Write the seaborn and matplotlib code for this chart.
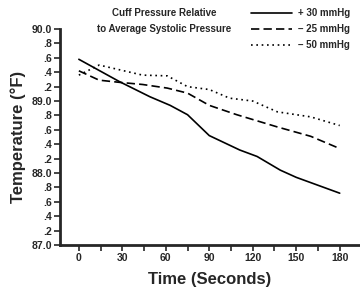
import numpy as np
import pandas as pd
import seaborn as sns
import matplotlib
matplotlib.use("Agg")
import matplotlib.pyplot as plt
from matplotlib.lines import Line2D

sns.set_style("ticks")
plt.rcParams['font.family'] = ['Liberation Sans Narrow', 'Liberation Sans', 'DejaVu Sans']

# Data
t_plus30 = [0, 28, 49, 63, 75, 90, 111, 123, 139, 150, 180]
T_plus30 = [89.58, 89.27, 89.06, 88.94, 88.81, 88.52, 88.32, 88.23, 88.04, 87.94, 87.72]
t_minus25 = [0, 14, 28, 44, 61, 75, 90, 109, 137, 160, 180]
T_minus25 = [89.42, 89.29, 89.26, 89.23, 89.18, 89.11, 88.94, 88.81, 88.64, 88.51, 88.34]
t_minus50 = [0, 14, 44, 61, 75, 90, 104, 120, 137, 160, 180]
T_minus50 = [89.36, 89.50, 89.36, 89.35, 89.20, 89.16, 89.04, 89.00, 88.85, 88.78, 88.66]
labels = ["+ 30 mmHg", "\u2013 25 mmHg", "\u2013 50 mmHg"]

df = pd.concat([
    pd.DataFrame({"t": t_plus30, "T": T_plus30, "cuff": labels[0]}),
    pd.DataFrame({"t": t_minus25, "T": T_minus25, "cuff": labels[1]}),
    pd.DataFrame({"t": t_minus50, "T": T_minus50, "cuff": labels[2]}),
])

fig = plt.figure(figsize=(3.6, 2.93), dpi=100)
ax = fig.add_axes([0.1667, 0.1638, 0.8333, 0.737])

dashes = {labels[0]: "", labels[1]: (5, 2.5), labels[2]: (1, 2.2)}
sns.lineplot(data=df, x="t", y="T", style="cuff", dashes=dashes,
             color="black", linewidth=1.2, ax=ax, legend=False, sort=False)

ax.set_xlim(-13, 194)
ax.set_ylim(87, 90)
ax.set_xticks(np.arange(0, 181, 30))
ax.set_xticks(np.arange(15, 181, 30), minor=True)
ax.set_yticks(np.arange(87, 90.01, 0.2))
ylabels = []
for v in np.arange(87, 90.01, 0.2):
    if abs(v - round(v)) < 1e-6:
        ylabels.append("%.1f" % v)
    else:
        ylabels.append(("%.1f" % v)[2:])
ax.set_yticklabels(ylabels)
ax.tick_params(axis="both", which="both", direction="out", width=1.2, length=4,
               labelsize=7.5, pad=2)
for lab in ax.get_xticklabels() + ax.get_yticklabels():
    lab.set_fontweight("bold")
for s in ["top", "right"]:
    ax.spines[s].set_visible(False)
for s in ["left", "bottom"]:
    ax.spines[s].set_linewidth(2)

ax.set_xlabel("Time (Seconds)", fontsize=12, fontweight="bold", labelpad=6)
ax.set_ylabel("Temperature (\u00b0F)", fontsize=12, fontweight="bold", labelpad=4)

fig.text(0.456, 0.955, "Cuff Pressure Relative", fontsize=7, fontweight="bold",
         ha="center", va="center")
fig.text(0.456, 0.9, "to Average Systolic Pressure", fontsize=7, fontweight="bold",
         ha="center", va="center")

handles = [Line2D([], [], color="black", lw=1.2, linestyle=ls)
           for ls in ["-", (0, (5, 2.5)), (0, (1, 2.2))]]
fig.legend(handles, labels, loc="upper left", bbox_to_anchor=(0.675, 1.0),
           frameon=False, handlelength=4.2, labelspacing=0.6,
           handletextpad=0.6, borderpad=0.35, prop={"weight": "bold", "size": 7})

fig.savefig("out.png", dpi=100)
